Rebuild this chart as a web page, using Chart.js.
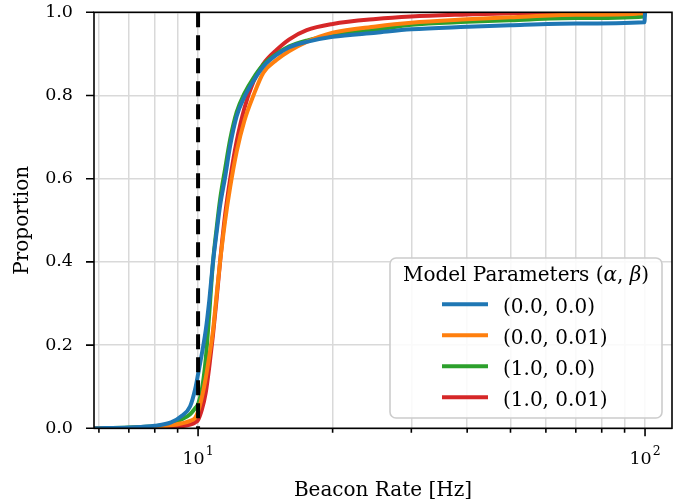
<!DOCTYPE html>
<html>
<head>
<meta charset="utf-8">
<script src="https://cdn.jsdelivr.net/npm/chart.js@4.4.1/dist/chart.umd.min.js"></script>
<style>
  html, body { margin: 0; padding: 0; background: #fff; }
  #wrap { width: 686px; height: 499px; }
</style>
</head>
<body>
<div id="wrap"><canvas id="cdf" width="686" height="499"></canvas></div>
<script>
// beacon rate samples [Hz], shared by all curves
const rates = [5.85, 7, 8, 8.7, 9.2, 9.6, 9.85, 10, 10.2, 10.4, 10.6, 10.8, 11, 11.2, 11.5, 11.8,
  12.2, 12.7, 13.3, 14, 15, 16, 17.5, 20, 25, 30, 40, 50, 70, 99.7, 100];

// empirical CDF for each (alpha, beta)
const cdf_00_00 = [0, 0.002, 0.006, 0.014, 0.03, 0.053, 0.094, 0.13, 0.18, 0.235, 0.31, 0.40, 0.47, 0.535, 0.605, 0.68,
  0.75, 0.797, 0.835, 0.87, 0.898, 0.916, 0.929, 0.941, 0.951, 0.959, 0.965, 0.969, 0.973, 0.976, 1];
const cdf_00_001 = [0, 0.001, 0.003, 0.007, 0.012, 0.018, 0.025, 0.04, 0.075, 0.12, 0.175, 0.235, 0.32, 0.40, 0.50, 0.58,
  0.665, 0.74, 0.80, 0.855, 0.886, 0.907, 0.929, 0.951, 0.966, 0.975, 0.983, 0.988, 0.994, 0.998, 1];
const cdf_10_00 = [0, 0.002, 0.005, 0.011, 0.022, 0.034, 0.048, 0.058, 0.094, 0.165, 0.28, 0.40, 0.48, 0.55, 0.625, 0.695,
  0.76, 0.805, 0.842, 0.874, 0.90, 0.918, 0.932, 0.945, 0.958, 0.97, 0.977, 0.981, 0.986, 0.99, 1];
const cdf_10_001 = [0, 0, 0.001, 0.003, 0.005, 0.009, 0.014, 0.02, 0.045, 0.085, 0.15, 0.225, 0.31, 0.40, 0.515, 0.60,
  0.69, 0.77, 0.833, 0.876, 0.91, 0.935, 0.957, 0.972, 0.984, 0.99, 0.995, 0.998, 0.999, 0.9995, 1];

const seriesLabels = ['(0.0, 0.0)', '(0.0, 0.01)', '(1.0, 0.0)', '(1.0, 0.01)'];
const seriesValues = [cdf_00_00, cdf_00_001, cdf_10_00, cdf_10_001];
const seriesColors = ['#1f77b4', '#ff7f0e', '#2ca02c', '#d62728'];

const thresholdRate = 10;
const xTicks = [6, 7, 8, 9, 10, 20, 30, 40, 50, 60, 70, 80, 90, 100];
const xMajor = [10, 100];
const yTicks = [0, 0.2, 0.4, 0.6, 0.8, 1.0];

const FONT = 'DejaVu Serif';

// blue drawn last (on top), red first
const datasets = seriesValues.map((vals, i) => ({
  label: seriesLabels[i],
  data: rates.map((r, j) => ({ x: r, y: vals[j] })),
  borderColor: seriesColors[i],
  borderWidth: 4,
  pointRadius: 0,
  cubicInterpolationMode: 'monotone',
  borderJoinStyle: 'round',
  clip: 0,
  order: i + 1
}));

datasets.push({
  label: 'threshold',
  data: [{ x: thresholdRate, y: 1 }, { x: thresholdRate, y: 0 }],
  borderColor: '#000',
  borderWidth: 4,
  borderDash: [15, 8],
  pointRadius: 0,
  clip: 0,
  order: 0
});

const frameAndLegend = {
  id: 'frameAndLegend',
  afterDatasetsDraw(chart) {
    const { ctx, chartArea: a, scales: { x, y } } = chart;
    ctx.save();

    // tick marks
    ctx.strokeStyle = '#000';
    ctx.lineWidth = 1.6;
    ctx.beginPath();
    xTicks.forEach(v => {
      const px = x.getPixelForValue(v);
      const len = xMajor.includes(v) ? 8 : 4.5;
      ctx.moveTo(px, a.bottom);
      ctx.lineTo(px, a.bottom + len);
    });
    yTicks.forEach(v => {
      const py = y.getPixelForValue(v);
      ctx.moveTo(a.left - 8, py);
      ctx.lineTo(a.left, py);
    });
    ctx.stroke();

    // spines
    ctx.strokeRect(a.left, a.top, a.right - a.left, a.bottom - a.top);

    // x labels as 10^n
    ctx.fillStyle = '#000';
    ctx.textBaseline = 'alphabetic';
    ctx.textAlign = 'left';
    xMajor.forEach(v => {
      const px = x.getPixelForValue(v);
      const exp = String(Math.round(Math.log10(v)));
      ctx.font = '17.5px "' + FONT + '"';
      const w1 = ctx.measureText('10').width;
      ctx.font = '12.5px "' + FONT + '"';
      const w2 = ctx.measureText(exp).width;
      const x0 = px - (w1 + 1 + w2) / 2;
      ctx.font = '17.5px "' + FONT + '"';
      ctx.fillText('10', x0, a.bottom + 36);
      ctx.font = '12.5px "' + FONT + '"';
      ctx.fillText(exp, x0 + w1 + 1, a.bottom + 27);
    });

    // legend box
    const bx = 390, by = 258, bw = 272, bh = 160, r = 6;
    ctx.beginPath();
    ctx.moveTo(bx + r, by);
    ctx.arcTo(bx + bw, by, bx + bw, by + bh, r);
    ctx.arcTo(bx + bw, by + bh, bx, by + bh, r);
    ctx.arcTo(bx, by + bh, bx, by, r);
    ctx.arcTo(bx, by, bx + bw, by, r);
    ctx.closePath();
    ctx.fillStyle = 'rgba(255,255,255,0.85)';
    ctx.fill();
    ctx.strokeStyle = '#cccccc';
    ctx.lineWidth = 1.6;
    ctx.stroke();

    // legend title with italic greek
    const parts = [
      ['Model Parameters (', ''], ['α', 'italic '], [', ', ''], ['β', 'italic '], [')', '']
    ];
    let total = 0;
    parts.forEach(p => { ctx.font = p[1] + '20px "' + FONT + '"'; total += ctx.measureText(p[0]).width; });
    let tx = bx + bw / 2 - total / 2;
    ctx.fillStyle = '#000';
    parts.forEach(p => {
      ctx.font = p[1] + '20px "' + FONT + '"';
      ctx.fillText(p[0], tx, 281);
      tx += ctx.measureText(p[0]).width;
    });

    // legend entries
    ctx.font = '20px "' + FONT + '"';
    seriesLabels.forEach((lab, i) => {
      const cy = 304.3 + 31 * i;
      ctx.strokeStyle = seriesColors[i];
      ctx.lineWidth = 4;
      ctx.beginPath();
      ctx.moveTo(442, cy);
      ctx.lineTo(488, cy);
      ctx.stroke();
      ctx.fillStyle = '#000';
      ctx.fillText(lab, 503, cy + 9);
    });

    ctx.restore();
  }
};

new Chart(document.getElementById('cdf'), {
  type: 'line',
  data: { datasets },
  plugins: [frameAndLegend],
  options: {
    responsive: false,
    animation: false,
    layout: { padding: { top: 12.3, right: 14, bottom: 0, left: 0 } },
    plugins: { legend: { display: false }, tooltip: { enabled: false } },
    scales: {
      x: {
        type: 'logarithmic',
        min: 5.85,
        max: 114.9,
        afterBuildTicks: s => { s.ticks = xTicks.map(v => ({ value: v, major: xMajor.includes(v) })); },
        afterFit: s => { s.height = 70.7; s.paddingLeft = 0; s.paddingRight = 0; },
        ticks: { display: false, autoSkip: false },
        grid: { color: '#d9d9d9', lineWidth: 1.5, drawTicks: false },
        border: { display: false },
        title: {
          display: true,
          text: 'Beacon Rate [Hz]',
          color: '#000',
          font: { family: FONT, size: 20, lineHeight: 1 },
          padding: { top: 0, bottom: -2 }
        }
      },
      y: {
        min: 0,
        max: 1,
        afterBuildTicks: s => { s.ticks = yTicks.map(v => ({ value: v })); },
        afterFit: s => { s.width = 94; s.paddingTop = 0; s.paddingBottom = 0; },
        ticks: {
          callback: v => Number(v).toFixed(1),
          padding: 21,
          color: '#000',
          font: { family: FONT, size: 17.5 }
        },
        grid: { color: '#d9d9d9', lineWidth: 1.5, drawTicks: false },
        border: { display: false },
        title: {
          display: true,
          text: 'Proportion',
          color: '#000',
          font: { family: FONT, size: 20, lineHeight: 1 },
          padding: { top: 13, bottom: 0 }
        }
      }
    }
  }
});
</script>
</body>
</html>
